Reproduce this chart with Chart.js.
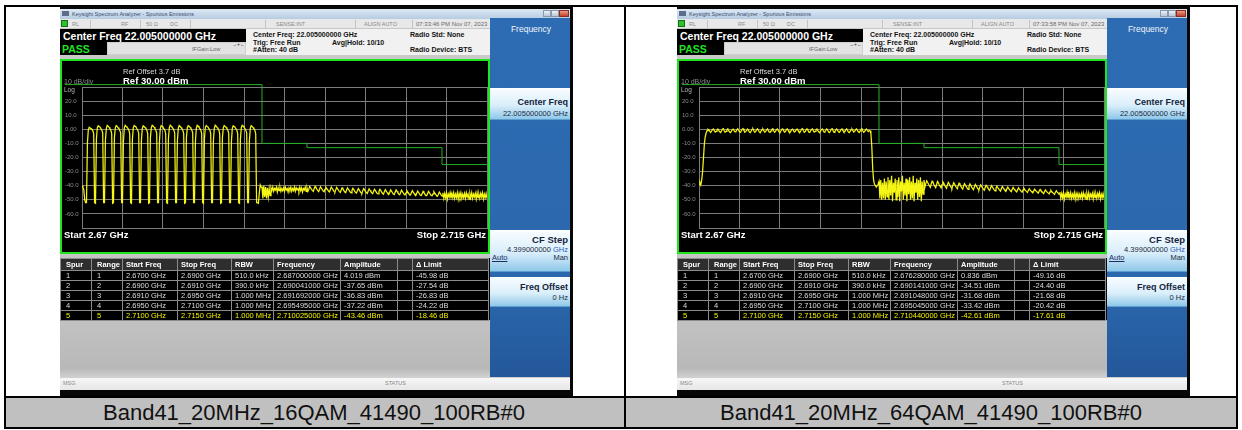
<!DOCTYPE html>
<html><head><meta charset="utf-8">
<script src="https://cdn.jsdelivr.net/npm/chart.js@4.4.1/dist/chart.umd.min.js"></script>
<style>
html,body{margin:0;padding:0;background:#fff;}
#page{position:relative;width:1242px;height:430px;overflow:hidden;background:#fff;font-family:"Liberation Sans",Arial,sans-serif;}
.a{position:absolute;white-space:nowrap;box-sizing:border-box;}
</style></head><body><div id="page"></div>
<script>
// ---------------- DATA ----------------
const freqStartGHz = 2.67;
const freqStepGHz = 0.0001;
const freqStopGHz = 2.715;
const xGrid = [2.67,2.6745,2.679,2.6835,2.688,2.6925,2.697,2.7015,2.706,2.7105,2.715];
const yTicks = [-70,-60,-50,-40,-30,-20,-10,0,10,20,30];
const yTickLabels = ['','-60.0','-50.0','-40.0','-30.0','-20.0','-10.0','0.00','10.0','20.0',''];
const limitFreqs = [2.6681,2.690,2.695,2.710,2.715];
const limitLevels = [31.7,-10,-13,-25,-25];

const trace16QAM = [
-40,-41,-43,-50,
-52,-52,-10,-0.5,1.5,1,0.5,0,-1,-3,
-52,-52.5,-7,1,2.5,2,1.5,0.5,-0.5,-2.5,
-52,-52,-8,0.5,2.8,2.2,1.5,0.5,-0.5,-3,
-52.5,-52,-6,1,2.6,2,1.2,0.3,-0.8,-2.5,
-52,-52,-9,0.8,2.9,2.1,1.4,0.6,-0.4,-3,
-52,-52.5,-7,1.2,2.7,2.2,1.5,0.4,-0.6,-2.8,
-52,-52,-8,0.6,2.5,2,1.3,0.5,-0.5,-3,
-52.5,-52,-6,1,2.8,2.3,1.6,0.5,-0.7,-2.6,
-52,-52,-9,0.7,2.6,2.1,1.4,0.4,-0.5,-3,
-52,-52.5,-7,1.1,2.9,2.2,1.5,0.6,-0.4,-2.7,
-52,-52,-8,0.8,2.7,2,1.3,0.4,-0.6,-3,
-52.5,-52,-6,1,2.5,2.1,1.5,0.5,-0.5,-2.5,
-52,-52,-9,0.6,2.8,2.3,1.4,0.5,-0.6,-3,
-52,-52.5,-7,1.2,2.6,2,1.6,0.4,-0.5,-2.8,
-52,-52,-8,0.7,2.9,2.2,1.3,0.6,-0.4,-3,
-52.5,-52,-6,1,2.7,2.1,1.5,0.5,-0.7,-2.6,
-52,-52,-9,0.8,2.5,2,1.4,0.4,-0.5,-3,
-52,-52.5,-7,1.1,2.8,2.3,1.5,0.5,-0.6,-2.7,
-52,-52,-8,0.6,2.6,2.1,1.3,0.4,-0.5,-3,
-52,-52,-52.5,-45,-39.5,-41,
-41,-49,-40,-48,-41,-49,-41.5,-48,-42,-47,
-41.5,-43.5,-41,-44,-42,-43,-41,-44.5,-41.5,-43.5,
-41,-44,-42,-43.5,-41.5,-44,-41,-43,-42,-44.5,
-41.5,-43,-41,-44,-42,-43.5,-41,-44,-41.5,-43,
-42,-44,-41,-43.5,-41.5,-44.5,-42,-43,-41,-44,
-41.5,
-44,-42.5,-40.5,-41.5,-42.5,-43.5,
-44,-42,-40.5,-41.5,-42.5,-43.5,
-44.2,-42.3,-40.8,-41.8,-42.8,-43.8,
-44.3,-42.5,-41,-42,-43,-44,
-44.5,-42.5,-41,-42,-43,-44,
-44.6,-42.8,-41.2,-42.2,-43.2,-44.2,
-44.8,-43,-41.5,-42.5,-43.5,-44.5,
-45,-43,-41.5,-42.5,-43.5,-44.5,
-45,-43.2,-41.8,-42.8,-43.8,-44.8,
-45.2,-43.5,-42,-43,-44,-45,
-45.4,-43.5,-42,-43,-44,-45,
-45.5,-43.8,-42.2,-43.2,-44.2,-45.2,
-45.6,-44,-42.5,-43.5,-44.5,-45.5,
-45.8,-44,-42.5,-43.5,-44.5,-45.5,
-46,-44.2,-42.8,-43.8,-44.8,-45.8,
-46,-44.5,-43,-44,-45,-46,
-46.2,-44.5,-43,-44,-45,-46,
-46.4,-44.8,-43.2,-44.2,-45.2,-46.2,
-46.5,-45,-43.5,-44.5,-45.5,-46.5,
-46.6,-45,-43.5,-44.5,-45.5,-46.5,
-46.8,-45.2,-43.8,-44.8,-45.8,-46.8,
-47,-45.5,-44,-45,-46,-47,
-47,-45.5,-44,-45,-46,-47,
-47.2,-45.8,-44.2,-45.2,-46.2,-47.2,
-47.4,-46,-44.5,-45.5,-46.5,-47.4,
-45,-49,-45.5,-48.5,-45,-49.5,-46,-48,-45,-49,
-45.5,-48.5,-45,-49,-46,-48.5,-45,-49.5,-45.5,-48,
-45,-49,-46,-48.5,-45.5,-49,-45,-48,-46,-49.5,
-45.5,-48.5,-45,-49,-46,-48,-45.5,-49.5,-45,-48.5,
-46,-49,-45.5,-48,-45,-49.5,-46,-48.5,-45.5,-49
];

const trace64QAM = [
-39,-37.5,-39.5,-36,-30,-20,-10,-5,-2.5,-1,0,
-0.5,-1.5,-2.2,-1.2,-0.2,0.3,-1,-2,-1.5,-0.5,
0.2,-0.8,-1.8,-2.3,-1.2,0,0.4,-1,-2.1,-1.4,
-0.3,0.3,-1,-2,-2.4,-1.3,-0.2,0.2,-0.9,-1.9,
-1.5,-0.4,0.3,-0.7,-1.8,-2.2,-1.1,0,0.4,-1,
-2,-1.6,-0.5,0.2,-0.8,-1.9,-2.3,-1.2,-0.1,0.3,
-1,-2.1,-1.5,-0.4,0.3,-0.7,-1.8,-2.4,-1.3,-0.2,
0.2,-0.9,-2,-1.6,-0.5,0.3,-0.8,-1.9,-2.2,-1.1,
0,0.4,-1,-2.1,-1.5,-0.3,0.2,-0.8,-1.8,-2.3,
-1.2,-0.1,0.3,-1,-2,-1.6,-0.4,0.3,-0.7,-1.9,
-2.4,-1.3,-0.2,0.2,-0.9,-2,-1.5,-0.5,0.2,-0.8,
-1.8,-2.3,-1.2,0,0.4,-1,-2.1,-1.6,-0.4,0.3,
-0.7,-1.9,-2.2,-1.1,-0.1,0.3,-1,-2,-1.5,-0.3,
0.2,-0.8,-1.8,-2.4,-1.3,-0.2,0.3,-0.9,-2,-1.6,
-0.5,0.3,-0.7,-1.9,-2.3,-1.2,0,0.4,-1,-2.1,
-1.5,-0.4,0.2,-0.8,-1.8,-2.2,-1.1,-0.1,0.3,-1,
-2,-1.6,-0.5,0.3,-0.7,-1.9,-2.4,-1.3,-0.2,0.2,
-0.9,-2,-1.5,-0.3,0.3,-0.8,-1.8,-2.3,-1.2,0,
0.4,-1,-2.1,-1.6,-0.4,0.2,-0.7,-1.5,-0.8,
-1,-3,-12,-28,-36,-39,-40,-41,-40,-39,
-37,-49,-36,-50,-38,-49,-35,-50,-37,-48,
-34,-50,-36,-47,-33,-51,-38,-45,-35,-50,
-36,-48,-34,-51,-37,-44,-33,-50,-38,-47,
-35,-51,-36,-46,-34,-50,-37,-49,-33,-51,
-38,-45,-35,-50,-36,-48,-34,-51,-37,-46,
-36,
-41,-38.5,-36.5,-37.5,-39,-40,
-41.2,-38.8,-36.8,-37.8,-39.2,-40.3,
-41.4,-39,-37,-38,-39.5,-40.5,
-41.6,-39.3,-37.3,-38.3,-39.7,-40.8,
-41.8,-39.5,-37.6,-38.6,-40,-41,
-42,-39.8,-37.9,-38.9,-40.2,-41.3,
-42.2,-40,-38.2,-39.2,-40.5,-41.5,
-42.4,-40.3,-38.5,-39.5,-40.7,-41.8,
-42.6,-40.5,-38.8,-39.8,-41,-42,
-42.8,-40.8,-39.1,-40.1,-41.2,-42.3,
-43,-41,-39.4,-40.4,-41.5,-42.5,
-43.2,-41.3,-39.7,-40.7,-41.7,-42.8,
-43.4,-41.5,-40,-41,-42,-43,
-43.6,-41.8,-40.3,-41.3,-42.2,-43.2,
-43.8,-42,-40.6,-41.6,-42.5,-43.4,
-44,-42.3,-40.9,-41.9,-42.7,-43.6,
-44.2,-42.5,-41.2,-42.2,-43,-43.8,
-44.4,-42.8,-41.5,-42.5,-43.2,-44,
-44.6,-43,-41.8,-42.8,-43.5,-44.2,
-44.8,-43.3,-42.1,-43.1,-43.8,-44.5,
-45,-43.5,-42.4,-43.4,-44,-44.7,
-45.3,-43.8,-42.7,-43.7,-44.3,-45,
-45.6,-44,-43,-44,-44.6,-45.3,
-45.9,-44.3,-43.3,-44.3,-44.9,-45.6,
-46.2,-44.6,-43.6,-44.6,-45.2,-46,
-44.5,-49,-45.5,-48.5,-45,-49.5,-46,-48,-44.5,-49,
-45.5,-48.5,-45,-49,-46,-48.5,-45,-49.5,-45.5,-48,
-45.5,-49,-46,-48.5,-45.5,-49,-45,-48,-46,-49.5,
-45.5,-48.5,-45,-49,-46,-48,-45.5,-49.5,-45,-48.5,
-46,-49,-45.5,-48,-45,-49.5,-46,-48.5,-45.5,-49
];

const spurHeaders = ['Spur','Range','Start Freq','Stop Freq','RBW','Frequency','Amplitude','','\u0394 Limit'];
const spurRows16QAM = [
 ['1','1','2.6700 GHz','2.6900 GHz','510.0 kHz','2.687000000 GHz','4.019 dBm','-45.98 dB'],
 ['2','2','2.6900 GHz','2.6910 GHz','390.0 kHz','2.690041000 GHz','-37.65 dBm','-27.54 dB'],
 ['3','3','2.6910 GHz','2.6950 GHz','1.000 MHz','2.691692000 GHz','-36.83 dBm','-26.83 dB'],
 ['4','4','2.6950 GHz','2.7100 GHz','1.000 MHz','2.695495000 GHz','-37.22 dBm','-24.22 dB'],
 ['5','5','2.7100 GHz','2.7150 GHz','1.000 MHz','2.710025000 GHz','-43.46 dBm','-18.46 dB']
];
const spurRows64QAM = [
 ['1','1','2.6700 GHz','2.6900 GHz','510.0 kHz','2.676280000 GHz','0.836 dBm','-49.16 dB'],
 ['2','2','2.6900 GHz','2.6910 GHz','390.0 kHz','2.690141000 GHz','-34.51 dBm','-24.40 dB'],
 ['3','3','2.6910 GHz','2.6950 GHz','1.000 MHz','2.691048000 GHz','-31.68 dBm','-21.68 dB'],
 ['4','4','2.6950 GHz','2.7100 GHz','1.000 MHz','2.695045000 GHz','-33.42 dBm','-20.42 dB'],
 ['5','5','2.7100 GHz','2.7150 GHz','1.000 MHz','2.710440000 GHz','-42.61 dBm','-17.61 dB']
];
const captions = ['Band41_20MHz_16QAM_41490_100RB#0','Band41_20MHz_64QAM_41490_100RB#0'];
const timestamps = ['07:33:46 PM Nov 07, 2023','07:33:58 PM Nov 07, 2023'];

// ---------------- HELPERS ----------------
const page = document.getElementById('page');
function box(x,y,w,h,css){const d=document.createElement('div');d.className='a';
  d.style.cssText=`left:${x}px;top:${y}px;width:${w}px;height:${h}px;`+(css||'');page.appendChild(d);return d;}
function txt(x,yc,s,size,css,align){const d=document.createElement('div');d.className='a';
  const lh=Math.round(size*1.3);
  let st=`top:${yc-lh/2}px;font-size:${size}px;line-height:${lh}px;`;
  if(align==='right') st+=`right:${1242-x}px;text-align:right;`;
  else if(align==='center') st+=`left:${x-300}px;width:600px;text-align:center;`;
  else st+=`left:${x}px;`;
  d.style.cssText=st+(css||'');d.textContent=s;page.appendChild(d);return d;}

// ---------------- TABLE FRAME ----------------
box(6,398,1230,29,'background:#c0c0c0');
box(4,5,1234,2,'background:#000');
box(4,427,1234,2,'background:#000');
box(4,5,2,424,'background:#000');
box(1236,5,2,424,'background:#000');
box(624,5,2,424,'background:#000');
box(4,396,1234,2,'background:#000');
txt(314,412,captions[0],22,'color:#111','center');
txt(931,412,captions[1],22,'color:#111','center');

// ---------------- SCREENS ----------------
const colW=[31,31,55,54,42,67,57,15,76];

function buildScreen(ox, time, trace, spurs){
  const X=v=>ox+v;
  box(X(60),6,513,390,'background:#070707');
  // title bar
  box(X(60),9,510,10,'background:linear-gradient(#dce8f4,#b6cce2)');
  box(X(62),11,7,5,'background:#5b6f8c');
  txt(X(72),14,'Keysight Spectrum Analyzer - Spurious Emissions',5.5,'color:#3a4c70');
  box(X(543),10,8,7,'background:linear-gradient(#eef2f7,#b9c6d6);border:1px solid #8898ad');
  box(X(551),10,8,7,'background:linear-gradient(#eef2f7,#b9c6d6);border:1px solid #8898ad');
  box(X(559),10,10,7,'background:linear-gradient(#ee9a86,#c2422c);border:1px solid #8a3020');
  // status row
  box(X(60),19,430,10,'background:#e8e8e8;border-bottom:1px solid #c8c8c8');
  box(X(61),20,7,7,'background:#2ec02e;border:1px solid #137013');
  const rowTxt=[[72,'RL'],[121,'RF'],[146,'50 \u03a9'],[170,'DC'],[276,'SENSE:INT'],[364,'ALIGN AUTO']];
  rowTxt.forEach(r=>txt(X(r[0]),24,r[1],5.5,'color:#8a8a8a'));
  [[90,1],[140,1],[190,1],[265,1],[355,1],[412,1]].forEach(s=>box(X(s[0]),20,1,8,'background:#c4c4c4'));
  txt(X(416),24,time,6,'color:#6a6a6a');
  // header
  box(X(246),29,244,26,'background:#f1f1f1');
  box(X(107),42,139,13,'background:#e2e2e2;border:1px solid #cfcfcf');
  box(X(60),29,186,13,'background:#000');
  txt(X(63),35.5,'Center Freq 22.005000000 GHz',10.5,'color:#fff;font-weight:bold');
  box(X(60),42,47,13,'background:#000');
  txt(X(62),48.5,'PASS',10.5,'color:#22e022;font-weight:bold');
  txt(X(192),49.5,'IFGain:Low',5.5,'color:#666');
  txt(X(232),44,'\u2192+\u2190',5,'color:#333');
  txt(X(253),34.3,'Center Freq: 22.005000000 GHz',7,'color:#111;font-weight:bold');
  txt(X(253),42.3,'Trig: Free Run',7,'color:#111;font-weight:bold');
  txt(X(332),42.3,'Avg|Hold: 10/10',7,'color:#111;font-weight:bold');
  txt(X(253),49.3,'#Atten: 40 dB',7,'color:#111;font-weight:bold');
  txt(X(410),34.3,'Radio Std: None',7,'color:#111;font-weight:bold');
  txt(X(410),49.3,'Radio Device: BTS',7,'color:#111;font-weight:bold');
  box(X(60),55,430,4,'background:#c9c9c9');
  // plot box
  box(X(60),59,430,195,'background:#000;border:2px solid #1fe51f');
  const cv=document.createElement('canvas');
  cv.width=426;cv.height=190;cv.className='a';
  cv.style.cssText=`left:${X(62)}px;top:61px;width:426px;height:190px;`;
  page.appendChild(cv);
  txt(X(64),81.5,'10 dB/div',7,'color:#8c8c8c');
  txt(X(64),89.5,'Log',6.5,'color:#b8b8b8');
  txt(X(123),71.7,'Ref Offset 3.7 dB',7.5,'color:#d8d8d8');
  txt(X(123),80.7,'Ref 30.00 dBm',9.5,'color:#fff;font-weight:bold');
  txt(X(64),235,'Start  2.67 GHz',9.5,'color:#fff;font-weight:bold');
  txt(X(486),235,'Stop 2.715 GHz',9.5,'color:#fff;font-weight:bold','right');
  // spur table
  box(X(60),254,430,4,'background:#c4c4c4');
  box(X(60),320,430,57,'background:linear-gradient(#c2c2c2,#b8b8b8 85%,#cfcfcf)');
  const rows=[spurHeaders].concat(spurs.map(r=>[r[0],r[1],r[2],r[3],r[4],r[5],r[6],'',r[7]]));
  rows.forEach((r,ri)=>{
    const y = ri===0?258:270+(ri-1)*10, h = ri===0?12:10;
    let x=60;
    r.forEach((c,ci)=>{
      const bg = ri===0?'#2e2e2e':'#000';
      const col = ri===0?'#fff':(ri===5?'#f2f200':'#dcdcdc');
      const d=box(X(x),y,colW[ci]+1,h+1,`background:${bg};border:1px solid #8c8c8c;color:${col};font-size:7.5px;line-height:${h-1}px;padding-left:${ci<2?5:3}px;overflow:hidden;white-space:nowrap;`+(ri===0?'font-weight:bold;':''));
      d.textContent=c;
      x+=colW[ci];
    });
  });
  // side panel
  box(X(490),18,80,359,'background:linear-gradient(#2d6cb3,#2b67ad 75%,#23589a)');
  txt(X(531),29,'Frequency',8.5,'color:#f0f4fa','center');
  const keyCss='background:linear-gradient(#f7fcff,#d9eefa 55%,#8fc8ea);border-top:1px solid #ffffff;border-bottom:1px solid #5f9fd0';
  box(X(490),88,80,32,keyCss);
  txt(X(568),102,'Center Freq',9,'color:#15243e;font-weight:bold','right');
  txt(X(568),114,'22.005000000 GHz',7.5,'color:#1e2a40','right');
  box(X(490),230,80,42,keyCss);
  txt(X(568),240,'CF Step',9.5,'color:#15243e;font-weight:bold','right');
  const st=txt(X(568),250,'',7.5,'color:#1e2a40','right');
  st.innerHTML='4.399000000 <span style="color:#2a62b8">GHz</span>';
  txt(X(492),258,'Auto',7.5,'color:#1e2a60;text-decoration:underline');
  txt(X(568),258,'Man',7.5,'color:#1e2a40','right');
  box(X(490),277,80,30,keyCss);
  txt(X(568),287,'Freq Offset',9,'color:#15243e;font-weight:bold','right');
  txt(X(568),298,'0 Hz',7.5,'color:#1e2a40','right');
  // status bar
  box(X(60),377,510,13,'background:linear-gradient(#f7f7f7,#e6e6e6);border-top:1px solid #d0d0d0');
  txt(X(63),383.5,'MSG',5.5,'color:#888');
  txt(X(385),383.5,'STATUS',5.5,'color:#888');
  return cv;
}

function makeChart(cv, trace){
  const pts = trace.map((v,i)=>({x: freqStartGHz + i*freqStepGHz, y: v}));
  const lim = limitFreqs.map((f,i)=>({x: f, y: limitLevels[i]}));
  new Chart(cv,{
    type:'line',
    data:{datasets:[
      {data:pts,borderColor:'#f6f614',borderWidth:1.25,pointRadius:0,tension:0,order:1},
      {data:lim,borderColor:'#22b022',borderWidth:1,pointRadius:0,stepped:true,clip:false,order:2}
    ]},
    options:{
      responsive:false,animation:false,devicePixelRatio:1,parsing:false,events:[],
      layout:{padding:{left:3,right:1,top:26,bottom:0}},
      plugins:{legend:{display:false},tooltip:{enabled:false}},
      scales:{
        x:{type:'linear',min:freqStartGHz,max:freqStopGHz,
          afterBuildTicks:s=>{s.ticks=xGrid.map(v=>({value:v}));},
          afterFit:s=>{s.height=23;},
          ticks:{display:false},
          grid:{color:'#7c7c7c',lineWidth:1,drawTicks:false},
          border:{color:'#7c7c7c'}},
        y:{type:'linear',min:-70,max:30,
          afterBuildTicks:s=>{s.ticks=yTicks.map(v=>({value:v}));},
          afterFit:s=>{s.width=17;},
          ticks:{callback:(v,i)=>yTickLabels[i],color:'#8a8a8a',font:{size:6,family:'Liberation Sans'},crossAlign:'far',padding:0,autoSkip:false},
          grid:{color:'#7c7c7c',lineWidth:1,drawTicks:false},
          border:{color:'#7c7c7c'}}
      }
    }
  });
}

const cvL = buildScreen(0, timestamps[0], trace16QAM, spurRows16QAM);
const cvR = buildScreen(617, timestamps[1], trace64QAM, spurRows64QAM);
makeChart(cvL, trace16QAM);
makeChart(cvR, trace64QAM);
</script></body></html>
